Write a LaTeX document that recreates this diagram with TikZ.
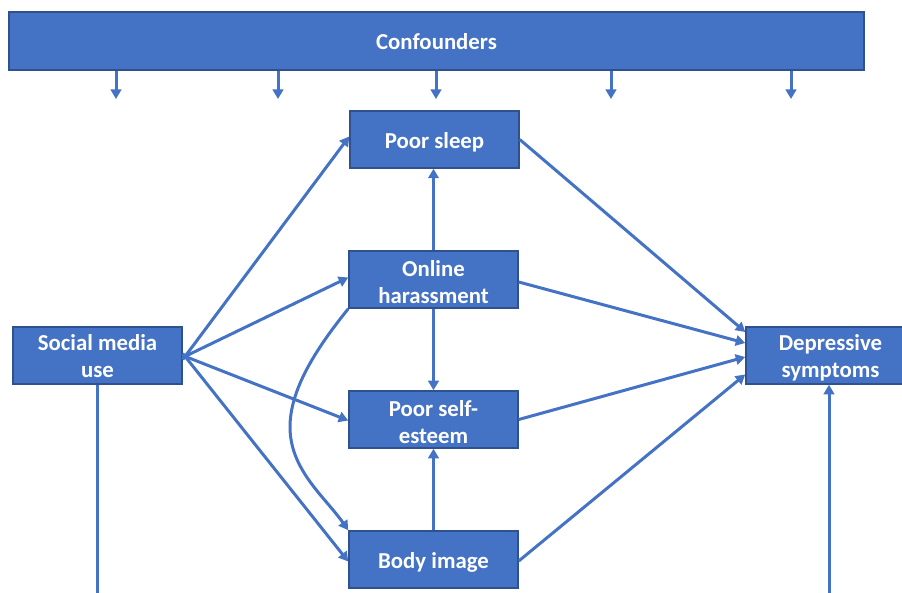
\documentclass[tikz,border=0pt]{standalone}
\usepackage{fontspec}
\setmainfont{Carlito}
\usetikzlibrary{arrows.meta}
\definecolor{fillblue}{HTML}{4472C4}
\definecolor{edgeblue}{HTML}{2F528F}
\tikzset{
  boxshape/.style={draw=edgeblue, fill=fillblue, line width=1.5pt,
    minimum width=169pt, minimum height=57pt, inner sep=0pt},
  box/.style={boxshape, label={[boxtext]center:#1}},
  boxtext/.style={text=white, font=\bfseries\fontsize{22.8}{27}\selectfont,
    align=center, inner sep=0pt, yshift=-2.5pt},
  link/.style={draw=fillblue, line width=3pt},
  arr/.style={link, -{Triangle[length=9.5pt,width=10.5pt]}}
}
\begin{document}
\begin{tikzpicture}[x=1pt,y=-1pt]
\useasboundingbox (0,0) rectangle (902,593);
% boxes
\node[boxshape, minimum width=855pt, minimum height=58pt,
  label={[boxtext,yshift=2pt]center:Confounders}] (conf) at (436.5,41) {};
\node[box={Poor sleep}] (sleep) at (434.5,139.5) {};
\node[box={Online\\harassment}] (onl) at (433.5,279.5) {};
\node[box={Poor self-\\esteem}] (self) at (433.5,419.5) {};
\node[box={Body image}] (body) at (433.5,559.5) {};
\node[boxshape, label={[boxtext,yshift=2pt]center:Social media\\use}] (soc) at (97.5,355.5) {};
\node[box={Depressive\\symptoms}] (dep) at (830.5,355.5) {};
% confounder arrows
\foreach \i/\x in {1/116,2/278,3/436,4/611,5/791}{
  \coordinate (c\i) at (\x,99);
  \draw[arr] (c\i |- conf.south) -- (c\i);
}
% bottom lines
\coordinate (sbot) at (97.5,596);
\coordinate (dbot) at (829,596);
\draw[link] (soc.south) -- (sbot);
\draw[arr] (dbot) -- (dbot |- dep.south);
% social media use
\draw[arr] ([yshift=-4pt]soc.east) -- ([yshift=3pt]sleep.west);
\draw[arr] ([yshift=-2pt]soc.east) -- ([yshift=2pt]onl.west);
\draw[arr] (soc.east) -- ([yshift=-1pt]self.west);
\draw[arr] ([yshift=2pt]soc.east) -- ([yshift=-2pt]body.west);
% curve
\draw[arr] (onl.south west) .. controls (315,350) and (290,390) .. (290,427)
  .. controls (290,470) and (325,497) .. (body.north west);
% verticals
\draw[arr] (onl.north) -- (onl.north |- sleep.south);
\draw[arr] (onl.south) -- (self.north);
\draw[arr] (body.north) -- (self.south);
% to depressive symptoms
\draw[arr] (sleep.east) -- ([yshift=23.5pt]dep.west);
\draw[arr] ([yshift=-2.5pt]onl.east) -- ([yshift=12.5pt]dep.west);
\draw[arr] (self.east) -- ([yshift=-1.5pt]dep.west);
\draw[arr] ([yshift=-1.5pt]body.east) -- ([yshift=-19pt]dep.west);
\end{tikzpicture}
\end{document}
